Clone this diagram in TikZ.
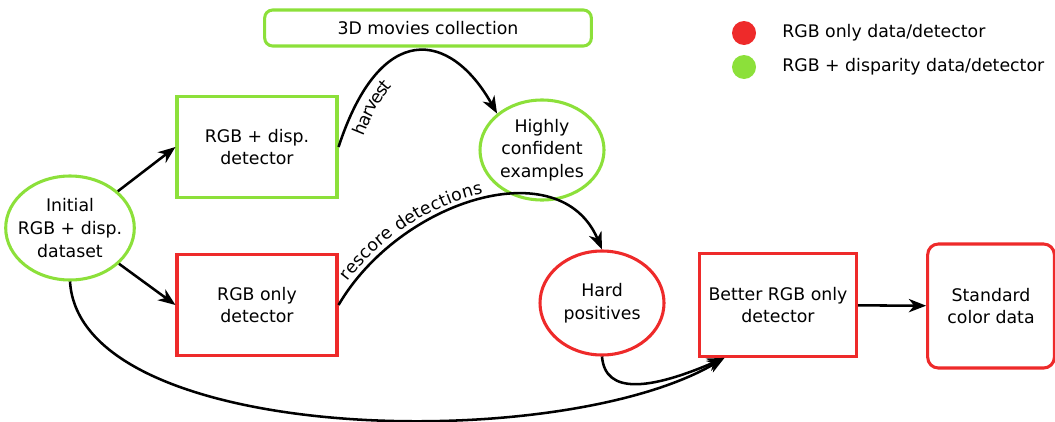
\documentclass[tikz,border=0pt]{standalone}
\usepackage{fontspec}
\setmainfont{DejaVu Sans}
\usetikzlibrary{arrows.meta,shapes.geometric,decorations.text}
\definecolor{rgbred}{RGB}{238,42,42}
\definecolor{dispgreen}{RGB}{140,224,58}
\newcommand{\labelfont}{\fontsize{13}{17}\selectfont}

\begin{document}
\begin{tikzpicture}[x=0.75pt,y=-0.75pt,>={Stealth[length=13pt,width=10pt,inset=4pt]},
    font=\labelfont,
    box/.style={draw,line width=2.3pt,align=center,inner sep=2pt},
    blob/.style={draw,ellipse,line width=2.3pt,align=center,inner sep=0pt},
    flow/.style={->,line width=1.9pt},
    dot/.style={circle,fill,inner sep=0pt,minimum size=18pt},
    pathlabel/.style n args={3}{postaction={decorate,decoration={text along path,
        text={|\labelfont|#1},raise=#2,text align={left indent=#3}}}}]
    \useasboundingbox (0,0) rectangle (1055,421);
    \node[blob,dispgreen,text=black,inner xsep=-5pt,minimum width=93pt,minimum height=78pt] (init) at (70,228) {Initial\\RGB + disp.\\dataset};
    \node[box,dispgreen,text=black,minimum width=120pt,minimum height=76pt] (dispdet) at (257,147) {RGB + disp.\\detector};
    \node[box,rgbred,text=black,minimum width=120pt,minimum height=76pt] (rgbdet) at (257,305) {RGB only\\detector};
    \node[box,dispgreen,text=black,rounded corners=6pt,minimum width=245pt,minimum height=27pt] (movies) at (428,28) {3D movies collection};
    \node[blob,dispgreen,text=black,inner xsep=-1pt,minimum width=93pt,minimum height=75pt] (confident) at (542,150) {Highly\\confident\\examples};
    \node[blob,rgbred,text=black,minimum width=93pt,minimum height=78pt] (hardpos) at (602,303) {Hard\\positives};
    \node[box,rgbred,text=black,minimum width=118pt,minimum height=77pt] (better) at (778,305) {Better RGB only\\detector};
    \node[box,rgbred,text=black,rounded corners=8pt,minimum width=95pt,minimum height=93pt] (standard) at (991,306) {Standard\\color data};

    \node[dot,rgbred] (reddot) at (744,33) {};
    \node[dot,dispgreen] (greendot) at (744,67) {};
    \node[anchor=west,inner sep=0pt] (redtext) at (782,33) {RGB only data/detector};
    \node[anchor=west,inner sep=0pt] (greentext) at (782,67) {RGB + disparity data/detector};

    \coordinate (betterin) at ([xshift=20pt]better.south west);
    \draw[flow] (init) -- (dispdet.west);
    \draw[flow] (init) -- (rgbdet.west);
    \draw[flow,pathlabel={harvest}{-15pt}{14pt}] (dispdet.east) .. controls (380,20) and (450,30) .. (confident.north west);
    \draw[flow,pathlabel={rescore detections}{4pt}{18pt}] (rgbdet.east) .. controls (400,200) and (560,150) .. (hardpos.north);
    \draw[flow] (init.south) .. controls (80,445) and (560,455) .. (betterin);
    \draw[flow] (hardpos.south) .. controls (605,395) and (650,390) .. (betterin);
    \draw[flow] (better) -- (standard);
\end{tikzpicture}
\end{document}
